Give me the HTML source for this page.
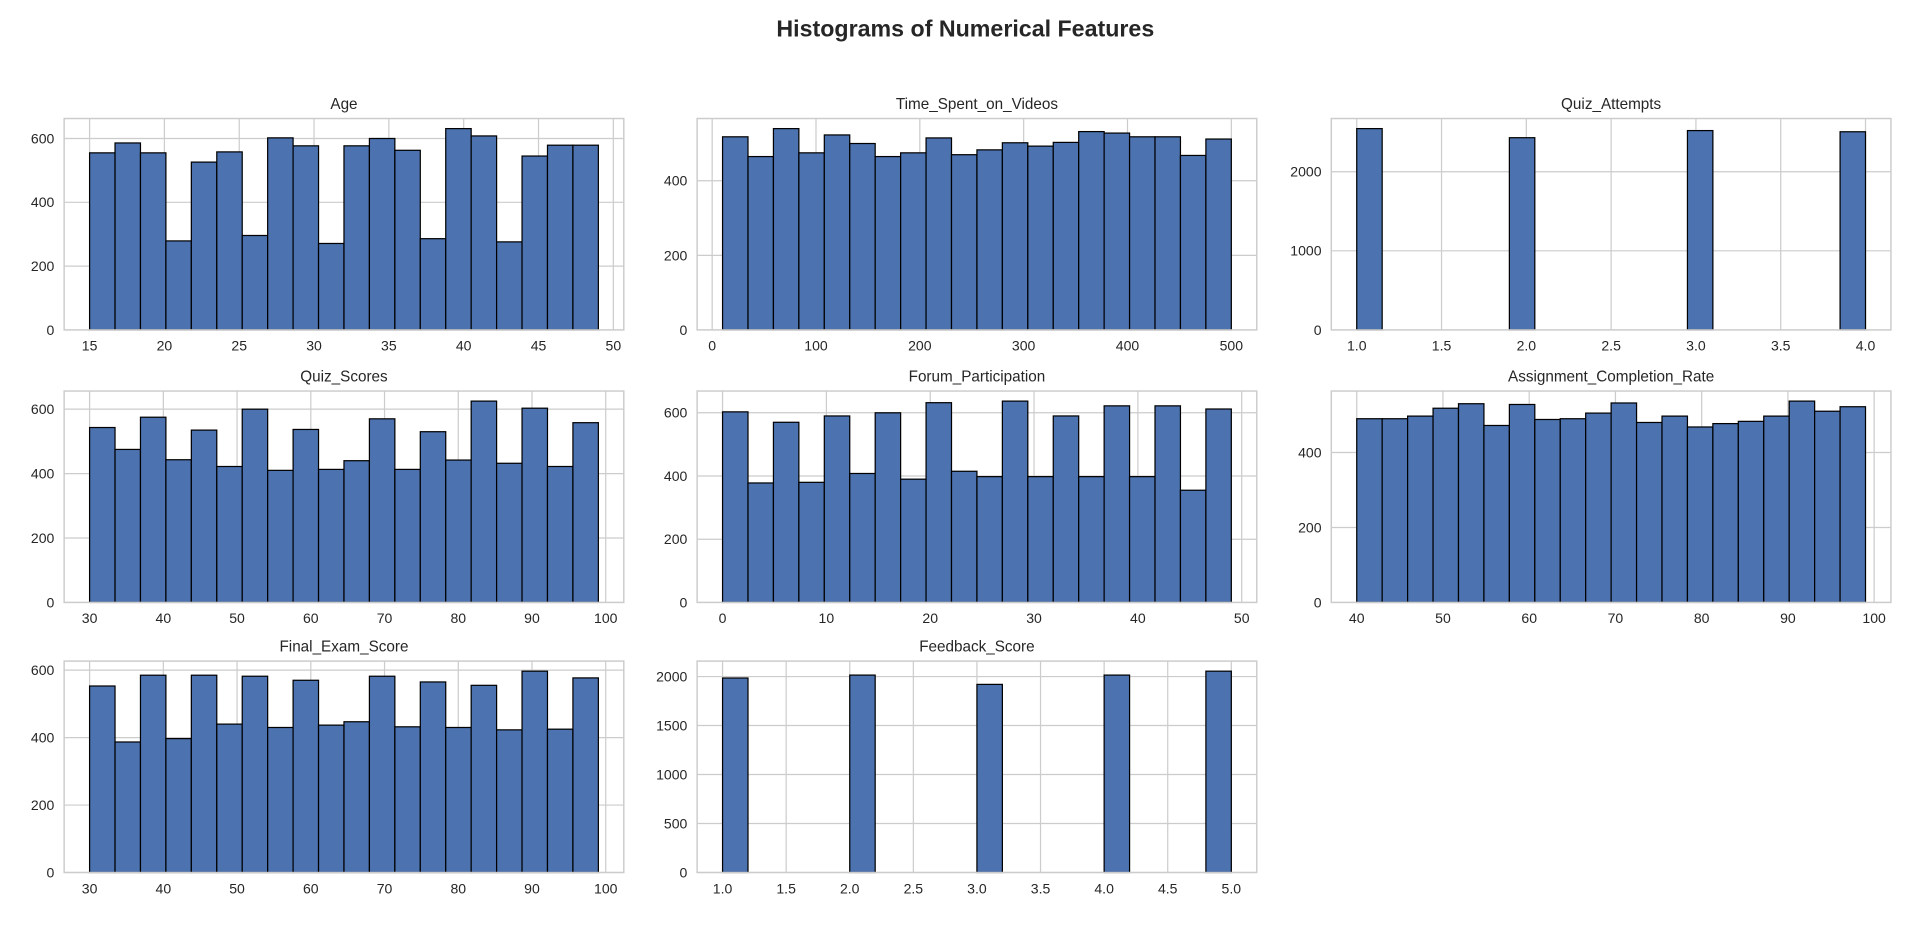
<!DOCTYPE html>
<html><head><meta charset="utf-8">
<style>
html,body{margin:0;padding:0;background:#fff;width:1916px;height:927px;overflow:hidden}
svg{display:block}
text{font-family:"Liberation Sans",Arial,sans-serif;fill:#262626}
</style></head>
<body>
<svg id="chart" width="1916" height="927" viewBox="0 0 1568 758.6" preserveAspectRatio="none" xmlns="http://www.w3.org/2000/svg">
<text x="790" y="30" text-anchor="middle" font-size="19" font-weight="bold">Histograms of Numerical Features</text>
</svg>
<script>
const titles = ["Age","Time_Spent_on_Videos","Quiz_Attempts","Quiz_Scores","Forum_Participation","Assignment_Completion_Rate","Final_Exam_Score","Feedback_Score"];
const binMins = [15,10,1,30,0,40,30,1];
const binMaxs = [49,500,4,99,49,99,99,5];
const ageCounts = [555,586,555,279,526,558,296,602,577,271,577,600,563,286,631,608,276,545,579,579];
const videoCounts = [518,465,540,475,523,500,465,475,515,470,483,502,493,503,532,528,518,518,468,512];
const attemptCounts = [2545,0,0,0,0,0,2430,0,0,0,0,0,0,2520,0,0,0,0,0,2505];
const quizScoreCounts = [543,475,575,443,535,422,600,410,537,413,440,570,413,530,442,625,432,603,422,558];
const forumCounts = [603,378,570,380,590,408,600,390,632,415,398,637,398,590,398,622,398,622,355,612];
const completionCounts = [490,490,497,518,530,472,528,488,490,505,532,480,497,468,477,483,497,537,510,522];
const finalExamCounts = [553,387,585,397,585,440,582,430,570,437,447,582,432,565,430,555,423,597,425,577];
const feedbackCounts = [1985,0,0,0,0,2015,0,0,0,0,1920,0,0,0,0,2015,0,0,0,2055];
const xTickLabels = [
 ["15","20","25","30","35","40","45","50"],
 ["0","100","200","300","400","500"],
 ["1.0","1.5","2.0","2.5","3.0","3.5","4.0"],
 ["30","40","50","60","70","80","90","100"],
 ["0","10","20","30","40","50"],
 ["40","50","60","70","80","90","100"],
 ["30","40","50","60","70","80","90","100"],
 ["1.0","1.5","2.0","2.5","3.0","3.5","4.0","4.5","5.0"]
];
const yTickLabels = [
 ["0","200","400","600"],
 ["0","200","400"],
 ["0","1000","2000"],
 ["0","200","400","600"],
 ["0","200","400","600"],
 ["0","200","400"],
 ["0","200","400","600"],
 ["0","500","1000","1500","2000"]
];
const allCounts=[ageCounts,videoCounts,attemptCounts,quizScoreCounts,forumCounts,completionCounts,finalExamCounts,feedbackCounts];

const NS="http://www.w3.org/2000/svg";
const svg=document.getElementById('chart');
function mk(tag,attrs,parent){const e=document.createElementNS(NS,tag);for(const k in attrs)e.setAttribute(k,attrs[k]);parent.appendChild(e);return e;}
const colX=[52.5,570.5,1089.5], rowY=[97,320,541], W=458, H=173;

allCounts.forEach((counts,i)=>{
  const r=Math.floor(i/3), c=i%3;
  const L=colX[c], T=rowY[r], B=T+H, R=L+W;
  const g=mk('g',{},svg);
  
  
  const lo=binMins[i], hi=binMaxs[i], span=hi-lo;
  const x0=lo-0.05*span, x1=hi+0.05*span;
  const ymax=Math.max(...counts)*1.05;
  const sx=v=>L+(v-x0)/(x1-x0)*W;
  const sy=v=>B-v/ymax*H;
  // grid
  xTickLabels[i].forEach(t=>{
    const v=parseFloat(t); const x=sx(v);
    if(x<L-0.5||x>R+0.5) return;
    const gl=mk('line',{x1:x,x2:x,y1:T,y2:B,stroke:'#cccccc','stroke-width':1},g);
    
    
    const tx=mk('text',{x:x,y:B+17,'text-anchor':'middle','font-size':11.5},g);
    
    
    tx.textContent=t;
  });
  yTickLabels[i].forEach(t=>{
    const v=parseFloat(t); const y=sy(v);
    const gl=mk('line',{x1:L,x2:R,y1:y,y2:y,stroke:'#cccccc','stroke-width':1},g);
    
    
    const tx=mk('text',{x:L-8,y:y+4,'text-anchor':'end','font-size':11.5},g);
    
    
    tx.textContent=t;
  });
  // bars
  const bw=span/counts.length;
  counts.forEach((v,k)=>{
    if(v<=0) return;
    const xa=sx(lo+k*bw), xb=sx(lo+(k+1)*bw);
    const b=mk('rect',{x:xa,y:sy(v),width:xb-xa,height:B-sy(v),fill:'#4c72b0',stroke:'#000','stroke-width':1},g);
    
    
  });
  const fr=mk('rect',{x:L,y:T,width:W,height:H,fill:'none',stroke:'#cccccc','stroke-width':1.2},g);
  
  
  const ti=mk('text',{x:L+W/2,y:T-8,'text-anchor':'middle','font-size':12.5},g);
  
  
  ti.textContent=titles[i];
});
</script>
</body></html>
